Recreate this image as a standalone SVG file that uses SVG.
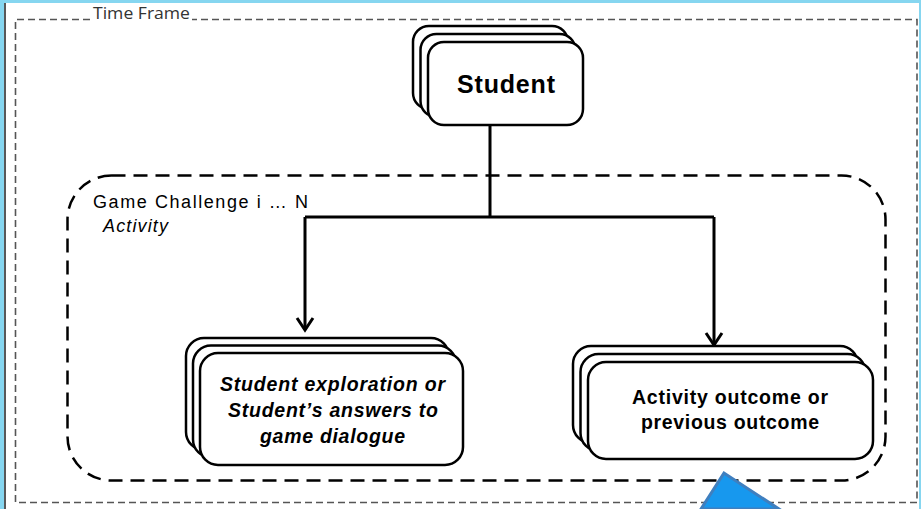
<svg xmlns="http://www.w3.org/2000/svg" width="921" height="509" viewBox="0 0 921 509">
<style>
.card{fill:#fff;stroke:#000;stroke-width:2.5}
.conn{fill:none;stroke:#000;stroke-width:3}
.head{fill:none;stroke:#000;stroke-width:3;stroke-linejoin:miter}
.lbl{font-family:"Liberation Sans",Arial,sans-serif;font-weight:bold;fill:#000;text-anchor:middle}
</style>
<rect x="0" y="0" width="921" height="509" fill="#fff"/>
<rect x="0" y="0" width="921" height="3" fill="#86d6f0"/>
<rect x="0" y="0" width="4" height="509" fill="#86d6f0"/>
<rect x="919" y="0" width="2" height="509" fill="#86d6f0"/>
<line x1="5" y1="3" x2="5" y2="509" stroke="#222" stroke-width="1.5"/>
<g id="timeframe">
<path d="M90 19.5 H15.5 V502.5 H917 V19.5 H192" fill="none" stroke="#555" stroke-width="1.6" stroke-dasharray="7,4"/>
<text x="93" y="18.5" font-family="'Open Sans','Liberation Sans',sans-serif" font-size="16.5" fill="#333" textLength="97" lengthAdjust="spacingAndGlyphs">Time Frame</text>
</g>
<g id="gamechallenge">
<rect x="67.5" y="175.5" width="818" height="305" rx="44" ry="44" fill="none" stroke="#000" stroke-width="2.5" stroke-dasharray="14,8"/>
<text x="93" y="208" font-family="'Liberation Sans',Arial,sans-serif" font-size="18" fill="#000" textLength="215">Game Challenge i … N</text>
<text x="103" y="232" font-family="'Liberation Sans',Arial,sans-serif" font-size="18" font-style="italic" fill="#000" textLength="65">Activity</text>
</g>
<g id="connectors">
<path class="conn" d="M490 125 V217 M305 217 H714 M305 217 V330 M714 217 V345"/>
<path class="head" d="M297 318 L305 330 L313 318"/>
<path class="head" d="M706 333 L714 345 L722 333"/>
</g>
<g id="student">
<rect class="card" x="413" y="26" width="155" height="83" rx="16"/>
<rect class="card" x="420.5" y="34" width="155" height="83" rx="16"/>
<rect class="card" x="428" y="42" width="155" height="83" rx="16"/>
<text class="lbl" x="506" y="93" font-size="25" textLength="98">Student</text>
</g>
<g id="exploration">
<rect class="card" x="186" y="338" width="263" height="112" rx="18"/>
<rect class="card" x="193" y="345.5" width="263" height="112" rx="18"/>
<rect class="card" x="200" y="353" width="263" height="112" rx="18"/>
<text class="lbl" x="332.5" y="391" font-size="19.5" font-style="italic" textLength="225">Student exploration or</text>
<text class="lbl" x="333" y="417" font-size="19.5" font-style="italic" textLength="210">Student’s answers to</text>
<text class="lbl" x="332.5" y="443" font-size="19.5" font-style="italic" textLength="145">game dialogue</text>
</g>
<g id="outcome">
<rect class="card" x="573" y="346" width="285" height="97" rx="18"/>
<rect class="card" x="580.5" y="354" width="285" height="97" rx="18"/>
<rect class="card" x="588" y="362" width="285" height="97" rx="18"/>
<text class="lbl" x="730" y="404" font-size="19.5" textLength="196">Activity outcome or</text>
<text class="lbl" x="730" y="429" font-size="19.5" textLength="178">previous outcome</text>
</g>
<polygon points="724,473 701,509 779,509" fill="#1798ee" stroke="#3f7fbf" stroke-width="3"/>
</svg>
